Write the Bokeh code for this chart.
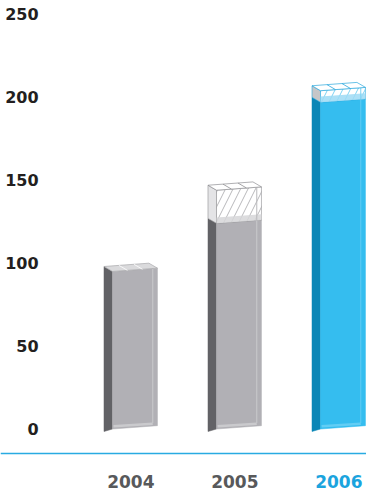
from bokeh.plotting import figure
from bokeh.models import Range1d, FixedTicker, Span
from bokeh.core.properties import value
from bokeh.embed import file_html
from bokeh.resources import INLINE

# ---- data ----
years = ["2004", "2005", "2006"]
solid = [95, 124, 197]      # filled part of each bar
total = [95, 144, 204]      # including the hatched top part
yticks = [0, 50, 100, 150, 200, 250]

front_col = ["#b1b0b5", "#b1b0b5", "#35bdef"]
side_col = ["#626266", "#626266", "#0b86b6"]
side_hatch_col = ["#e4e4e6", "#e4e4e6", "#c6c6c8"]
band_col = ["#d6d6d8", "#d6d6d8", "#9edbf5"]
hatch_col = ["#b8b8bb", "#b8b8bb", "#7dd2f3"]
top_fill = ["#dadadc", "#ffffff", "#ffffff"]
top_line = ["#a8a8ab", "#8e8e92", "#2aa7dd"]
bevel_col = ["#cacacd", "#cacacd", "#62cdf4"]
label_col = ["#58595b", "#58595b", "#1ba4de"]

# ---- geometry (style constants) ----
hw = 0.216   # half width of front face (x units)
dx = 0.082   # depth of side face (x units)
s = 2.0      # slant of front face (y units)
t = 3.0      # depth of top face (y units)
b = 1.5
bh = 3.5     # light band height

p = figure(width=366, height=495, output_backend="svg", toolbar_location=None,
           x_range=Range1d(-1.293, 2.226), y_range=Range1d(-40.1, 258.4),
           x_axis_location=None, min_border_left=0, min_border_right=0,
           min_border_top=0, min_border_bottom=0)
p.outline_line_color = None
p.xgrid.visible = False
p.ygrid.visible = False
p.background_fill_color = "white"
p.border_fill_color = "white"

ya = p.yaxis[0]
ya.fixed_location = -0.860
ya.ticker = FixedTicker(ticks=yticks)
ya.axis_line_color = None
ya.major_tick_line_color = None
ya.minor_tick_line_color = None
ya.major_tick_out = 0
ya.major_tick_in = 0
ya.major_label_standoff = 7
ya.major_label_text_font = "DejaVu Sans"
ya.major_label_text_font_style = "bold"
ya.major_label_text_font_size = "16px"
ya.major_label_text_color = "#231f20"

for i, yr in enumerate(years):
    sv, tv = solid[i], total[i]
    x0, x1 = i - hw, i + hw
    hatched = tv > sv
    # left side face, solid part
    p.patch([x0 - dx, x0, x0, x0 - dx], [-b, 0, sv, sv + t],
            fill_color=side_col[i], line_color=side_col[i], line_width=0.5)
    # front face solid
    p.patch([x0, x1, x1, x0], [0, s, sv + s, sv],
            fill_color=front_col[i], line_color=front_col[i], line_width=0.5)
    # bottom bevel and right bevel
    p.line([x0 + 0.01, x1 - 0.045], [1.6, 1.6 + s * 0.8], line_color=bevel_col[i], line_width=2.5)
    p.line([x1 - 0.045, x1 - 0.045], [1.6 + s, sv + s - 0.5], line_color=bevel_col[i], line_width=1)
    if hatched:
        p.patch([x0 - dx, x0, x0, x0 - dx], [sv + t, sv, tv, tv + t],
                fill_color=side_hatch_col[i], line_color=top_line[i], line_width=0.6)
        p.patch([x0, x1, x1, x0], [sv, sv + s, tv + s, tv],
                fill_color="white", line_color=top_line[i], line_width=0.6,
                hatch_pattern="/", hatch_color=hatch_col[i], hatch_scale=15, hatch_weight=1)
        p.patch([x0, x1, x1, x0], [sv, sv + s, sv + s + bh, sv + bh],
                fill_color=band_col[i], fill_alpha=0.85, line_color=None)
        p.line([x1 - 0.045, x1 - 0.045], [sv + s, tv + s], line_color=hatch_col[i], line_width=1)
    # top face
    p.patch([x0, x1, x1 - dx, x0 - dx], [tv, tv + s, tv + s + t, tv + t],
            fill_color=top_fill[i], line_color=top_line[i], line_width=0.7)
    for f in (1 / 3, 2 / 3):
        xa = x0 + (x1 - x0) * f
        p.line([xa, xa - dx], [tv + s * f, tv + s * f + t], line_color="white" if not hatched else top_line[i],
               line_width=0.8)

p.add_layout(Span(location=-14.8, dimension="width", line_color="#29abe2", line_width=1.5))

p.text(x=[i - 0.04 for i in range(len(years))], y=[-31.7] * len(years), text=years,
       text_color=label_col, text_align="center", text_baseline="middle",
       text_font=value("DejaVu Sans"), text_font_style="bold", text_font_size="17px")

open("out.html", "w").write(file_html(p, INLINE))
